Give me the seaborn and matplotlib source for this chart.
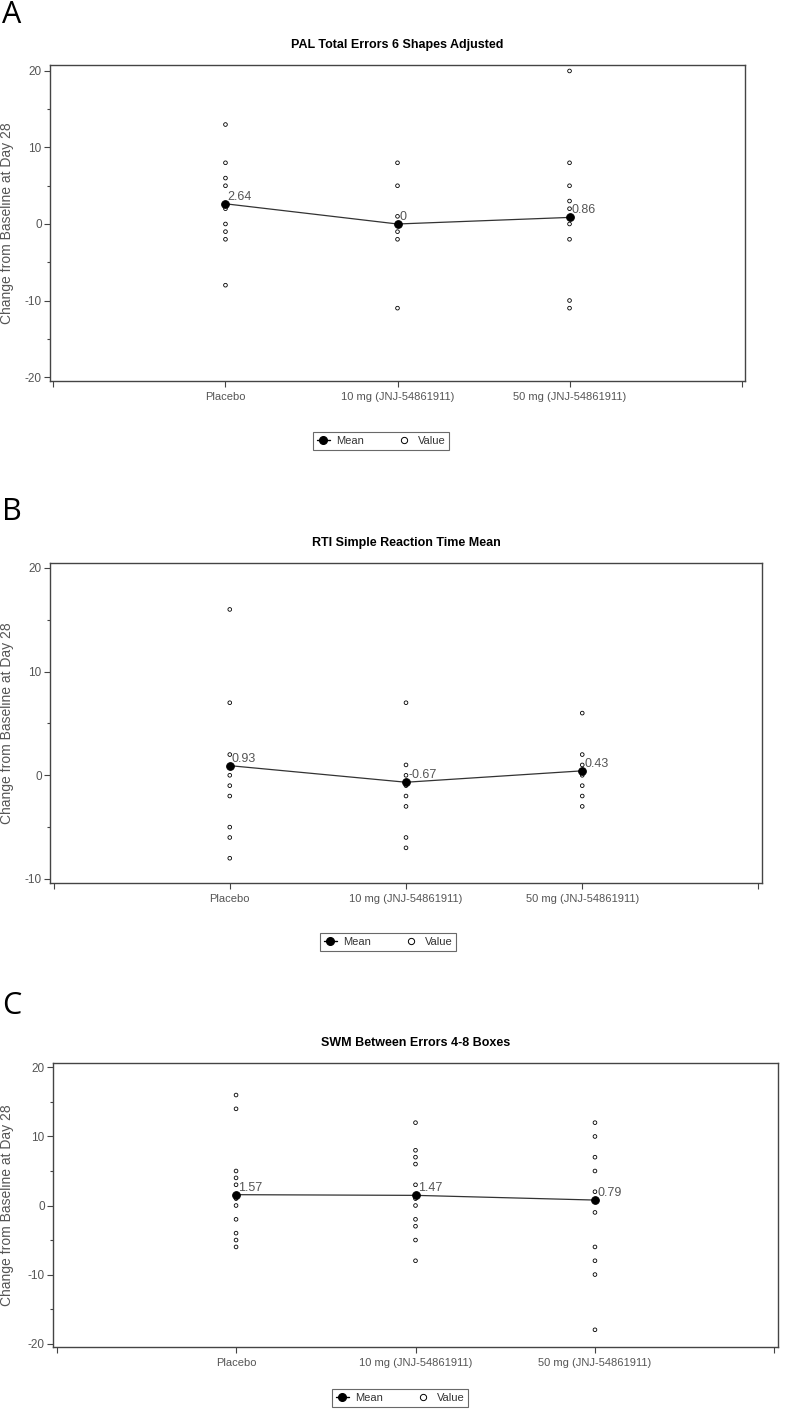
import numpy as np
import pandas as pd
import matplotlib
matplotlib.use("Agg")
import matplotlib.pyplot as plt
import seaborn as sns
from matplotlib.lines import Line2D
from matplotlib.ticker import FixedLocator

# --- data ---
groups = ["Placebo", "10 mg (JNJ-54861911)", "50 mg (JNJ-54861911)"]

pal_placebo = [13, 8, 6, 5, 2, 0, -1, -2, -8]
pal_10mg = [8, 5, 1, 0, -1, -2, -11]
pal_50mg = [20, 8, 5, 3, 2, 0, -2, -10, -11]
pal_means = [2.64, 0, 0.86]

rti_placebo = [16, 7, 2, 0, -1, -2, -5, -6, -8]
rti_10mg = [7, 1, 0, -1, -2, -3, -6, -7]
rti_50mg = [6, 2, 1, 0, -1, -2, -3]
rti_means = [0.93, -0.67, 0.43]

swm_placebo = [16, 14, 5, 4, 3, 1, 0, -2, -4, -5, -6]
swm_10mg = [12, 8, 7, 6, 3, 1, 0, -2, -3, -5, -8]
swm_50mg = [12, 10, 7, 5, 2, -1, -6, -8, -10, -18]
swm_means = [1.57, 1.47, 0.79]

titles = ["PAL Total Errors 6 Shapes Adjusted",
          "RTI Simple Reaction Time Mean",
          "SWM Between Errors 4-8 Boxes"]
letters = ["A", "B", "C"]
ylabel = "Change from Baseline at Day 28"

# --- layout (pixels) ---
W, H = 786, 1410
sns.set_theme(style="ticks")
plt.rcParams["font.family"] = ["Liberation Sans", "DejaVu Sans"]
plt.rcParams["axes.unicode_minus"] = False

fig = plt.figure(figsize=(W / 100, H / 100), dpi=100)

panels = [
    dict(values=[pal_placebo, pal_10mg, pal_50mg], means=pal_means,
         box=(50, 65, 745, 381), ylim=(-20.52, 20.78),
         major=[-20, -10, 0, 10, 20], minor=[-15, -5, 5, 15],
         letter_y=23, legend=(381, 441)),
    dict(values=[rti_placebo, rti_10mg, rti_50mg], means=rti_means,
         box=(50, 563, 762, 883), ylim=(-10.39, 20.48),
         major=[-10, 0, 10, 20], minor=[-5, 5, 15],
         letter_y=520, legend=(388, 942)),
    dict(values=[swm_placebo, swm_10mg, swm_50mg], means=swm_means,
         box=(53, 1063, 778, 1347), ylim=(-20.49, 20.64),
         major=[-20, -10, 0, 10, 20], minor=[-15, -5, 5, 15],
         letter_y=1014, legend=(400, 1398)),
]

edge = "#444444"
pos = {g: i + 1 for i, g in enumerate(groups)}

for p, title, letter in zip(panels, titles, letters):
    l, t, r, b = p["box"]
    ax = fig.add_axes([l / W, 1 - b / H, (r - l) / W, (b - t) / H])

    df = pd.DataFrame({
        "group": np.repeat(groups, [len(v) for v in p["values"]]),
        "value": np.concatenate(p["values"]),
    })
    df["pos"] = df["group"].map(pos)
    sns.scatterplot(data=df, x="pos", y="value", ax=ax, marker="o", s=7,
                    facecolors="none", edgecolor="black", linewidth=0.6,
                    legend=False, zorder=3)

    mdf = pd.DataFrame({"group": groups, "mean": p["means"]})
    mdf["pos"] = mdf["group"].map(pos)
    sns.lineplot(data=mdf, x="pos", y="mean", ax=ax, color="#333333", lw=0.9,
                 marker="o", markersize=5.5, markerfacecolor="black",
                 markeredgecolor="black", legend=False, zorder=4)
    for x, m in zip(mdf["pos"], mdf["mean"]):
        ax.annotate(f"{m:g}", (x, m), xytext=(1.5, 5), textcoords="offset points",
                    ha="left", va="center", fontsize=9, color="#555555", zorder=5)

    ax.set_xlim(-0.02, 4.02)
    ax.set_ylim(*p["ylim"])
    ax.set_xticks(range(5))
    ax.set_xticklabels([""] + groups + [""])
    ax.set_yticks(p["major"])
    ax.yaxis.set_minor_locator(FixedLocator(p["minor"]))
    ax.set_xlabel("")
    ax.set_ylabel(ylabel, fontsize=10, color="#555555")
    ax.yaxis.set_label_coords(-(l - 14) / (r - l), 0.5)
    ax.set_title(title, fontsize=9, fontweight="bold", color="black", pad=12)

    ax.tick_params(axis="both", which="major", length=4, width=0.8, color=edge,
                   labelcolor="#555555", direction="out", pad=2)
    ax.tick_params(axis="y", labelsize=8.5)
    ax.tick_params(axis="x", labelsize=8, pad=4)
    ax.tick_params(axis="y", which="minor", length=2.5, width=0.8, color=edge)
    for s in ax.spines.values():
        s.set_visible(True)
        s.set_color(edge)
        s.set_linewidth(1.0)

    fig.text(2 / W, 1 - p["letter_y"] / H, letter, fontsize=22, family="Open Sans",
             ha="left", va="baseline", color="black")

    handles = [
        Line2D([], [], color="black", lw=1, marker="o", markersize=5.5),
        Line2D([], [], color="black", lw=0, marker="o", markersize=4.5,
               markerfacecolor="white", markeredgewidth=0.7),
    ]
    cx, cy = p["legend"]
    leg = fig.legend(handles, ["Mean", "Value"], loc="center",
                     bbox_to_anchor=(cx / W, 1 - cy / H), ncol=2, frameon=True,
                     fancybox=False, edgecolor=edge, fontsize=8,
                     handlelength=1.2, columnspacing=3.0, borderpad=0.35,
                     handletextpad=0.6, labelcolor="#333333")
    leg.get_frame().set_linewidth(0.8)

fig.savefig("out.png", dpi=100)
